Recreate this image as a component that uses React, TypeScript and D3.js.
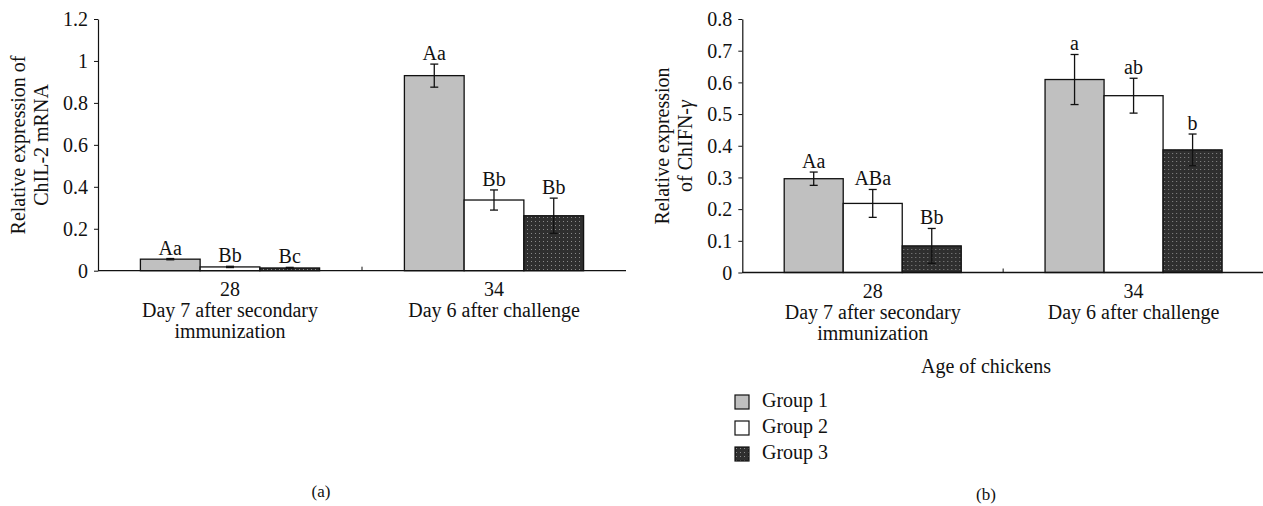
import { axisLeft, scaleBand, scaleLinear, select } from "d3";
import React, { useEffect, useRef } from "react";

const categories = ["28", "34"];
const categoryNotes = [["Day 7 after secondary", "immunization"], ["Day 6 after challenge"]];
const groups = ["Group 1", "Group 2", "Group 3"];
const groupFills = ["#c0c0c0", "#ffffff", "url(#dots)"];

// ChIL-2, values per category, one entry per group
const il2Values = [
  [0.055, 0.018, 0.013],
  [0.93, 0.337, 0.262],
];
const il2Errors = [
  [0.003, 0.003, 0.003],
  [0.055, 0.048, 0.084],
];
const il2Letters = [
  ["Aa", "Bb", "Bc"],
  ["Aa", "Bb", "Bb"],
];
const il2Ticks = [0, 0.2, 0.4, 0.6, 0.8, 1, 1.2];

// ChIFN-gamma
const ifnValues = [
  [0.296, 0.218, 0.084],
  [0.609, 0.558, 0.387],
];
const ifnErrors = [
  [0.021, 0.044, 0.055],
  [0.079, 0.055, 0.05],
];
const ifnLetters = [
  ["Aa", "ABa", "Bb"],
  ["a", "ab", "b"],
];
const ifnTicks = [0, 0.1, 0.2, 0.3, 0.4, 0.5, 0.6, 0.7, 0.8];

const FONT = "'Liberation Serif', 'Times New Roman', serif";

function drawPanel(g, opts) {
  const { left, right, top, bottom, max, ticks, values, errors, letters } = opts;

  const x0 = scaleBand().domain(categories).range([left, right]);
  const x1 = scaleBand()
    .domain(groups)
    .range([0, x0.bandwidth()])
    .paddingOuter(0.71);
  const y = scaleLinear().domain([0, max]).range([bottom, top]);

  const yAxis = axisLeft(y)
    .tickValues(ticks)
    .tickFormat((d) => String(d))
    .tickSize(4)
    .tickSizeOuter(0)
    .tickPadding(6);

  const ax = g.append("g").attr("transform", `translate(${left},0)`).call(yAxis);
  ax.attr("font-family", FONT).attr("font-size", 20);
  ax.selectAll("text").attr("fill", "#111").attr("dy", "0.34em");
  ax.selectAll("line").attr("stroke", "#111");
  ax.select(".domain").attr("stroke", "#111").attr("stroke-width", 1.2);

  categories.forEach((cat, ci) => {
    const cg = g.append("g").attr("transform", `translate(${x0(cat)},0)`);
    groups.forEach((grp, gi) => {
      const v = values[ci][gi];
      const e = errors[ci][gi];
      const bx = x1(grp);
      const bw = x1.bandwidth();
      cg.append("rect")
        .attr("x", bx)
        .attr("y", y(v))
        .attr("width", bw)
        .attr("height", y(0) - y(v))
        .attr("fill", groupFills[gi])
        .attr("stroke", "#111")
        .attr("stroke-width", 1.3);
      const cx = bx + bw / 2;
      cg.append("line")
        .attr("x1", cx)
        .attr("x2", cx)
        .attr("y1", y(v - e))
        .attr("y2", y(v + e))
        .attr("stroke", "#111")
        .attr("stroke-width", 1.3);
      [v - e, v + e].forEach((ev) => {
        cg.append("line")
          .attr("x1", cx - 4)
          .attr("x2", cx + 4)
          .attr("y1", y(ev))
          .attr("y2", y(ev))
          .attr("stroke", "#111")
          .attr("stroke-width", 1.3);
      });
      cg.append("text")
        .attr("x", cx)
        .attr("y", y(v + e) - 4)
        .attr("text-anchor", "middle")
        .attr("font-family", FONT)
        .attr("font-size", 20)
        .attr("fill", "#111")
        .text(letters[ci][gi]);
    });

    const tx = x0(cat) + x0.bandwidth() / 2;
    g.append("text")
      .attr("x", tx)
      .attr("y", bottom + 25)
      .attr("text-anchor", "middle")
      .attr("font-family", FONT)
      .attr("font-size", 20)
      .attr("fill", "#111")
      .text(cat);
    categoryNotes[ci].forEach((line, li) => {
      g.append("text")
        .attr("x", tx)
        .attr("y", bottom + 46 + li * 21)
        .attr("text-anchor", "middle")
        .attr("font-family", FONT)
        .attr("font-size", 20)
        .attr("fill", "#111")
        .text(line);
    });
  });

  // x axis line with separator tick
  g.append("line")
    .attr("x1", left)
    .attr("x2", right)
    .attr("y1", bottom)
    .attr("y2", bottom)
    .attr("stroke", "#111")
    .attr("stroke-width", 1.3);
  categories.slice(1).forEach((cat) => {
    g.append("line")
      .attr("x1", x0(cat))
      .attr("x2", x0(cat))
      .attr("y1", bottom)
      .attr("y2", bottom - 4)
      .attr("stroke", "#111");
  });
}

function App() {
  const svgRef = useRef(null);

  useEffect(() => {
    const svg = select(svgRef.current);
    svg.select(".panels").selectAll("*").remove();
    const root = svg.select(".panels");

    drawPanel(root.append("g"), {
      left: 98,
      right: 626,
      top: 19,
      bottom: 270.7,
      max: 1.2,
      ticks: il2Ticks,
      values: il2Values,
      errors: il2Errors,
      letters: il2Letters,
    });
    drawPanel(root.append("g"), {
      left: 742.3,
      right: 1264,
      top: 19,
      bottom: 272.5,
      max: 0.8,
      ticks: ifnTicks,
      values: ifnValues,
      errors: ifnErrors,
      letters: ifnLetters,
    });
  }, []);

  const text = { fontFamily: FONT, fontSize: 20, fill: "#111" };

  return (
    <svg
      ref={svgRef}
      width={1263}
      height={506}
      style={{ position: "absolute", left: 0, top: 0, background: "#fff" }}
    >
      <defs>
        <pattern id="dots" width={4} height={4} patternUnits="userSpaceOnUse">
          <rect width={4} height={4} fill="#2f2f2f" />
          <rect x={1} y={1} width={1} height={1} fill="#8a8a8a" />
        </pattern>
      </defs>
      <g className="panels" />

      <text transform="translate(25,145) rotate(-90)" textAnchor="middle" {...text}>
        Relative expression of
      </text>
      <text transform="translate(48,145) rotate(-90)" textAnchor="middle" {...text}>
        ChIL-2 mRNA
      </text>
      <text transform="translate(669,146) rotate(-90)" textAnchor="middle" {...text}>
        Relative expression
      </text>
      <text transform="translate(692,146) rotate(-90)" textAnchor="middle" {...text}>
        of ChIFN-<tspan fontStyle="italic">γ</tspan>
      </text>

      <text x={986} y={373} textAnchor="middle" {...text}>
        Age of chickens
      </text>

      {groups.map((grp, i) => (
        <g key={grp} transform={`translate(735,${395 + i * 26})`}>
          <rect width={14} height={14} fill={groupFills[i]} stroke="#111" strokeWidth={1.2} />
          <text x={27} y={12} {...text}>
            {grp}
          </text>
        </g>
      ))}

      <text x={321} y={497} textAnchor="middle" {...text} fontSize={17}>
        (a)
      </text>
      <text x={986} y={500} textAnchor="middle" {...text} fontSize={17}>
        (b)
      </text>
    </svg>
  );
}

export default App;
